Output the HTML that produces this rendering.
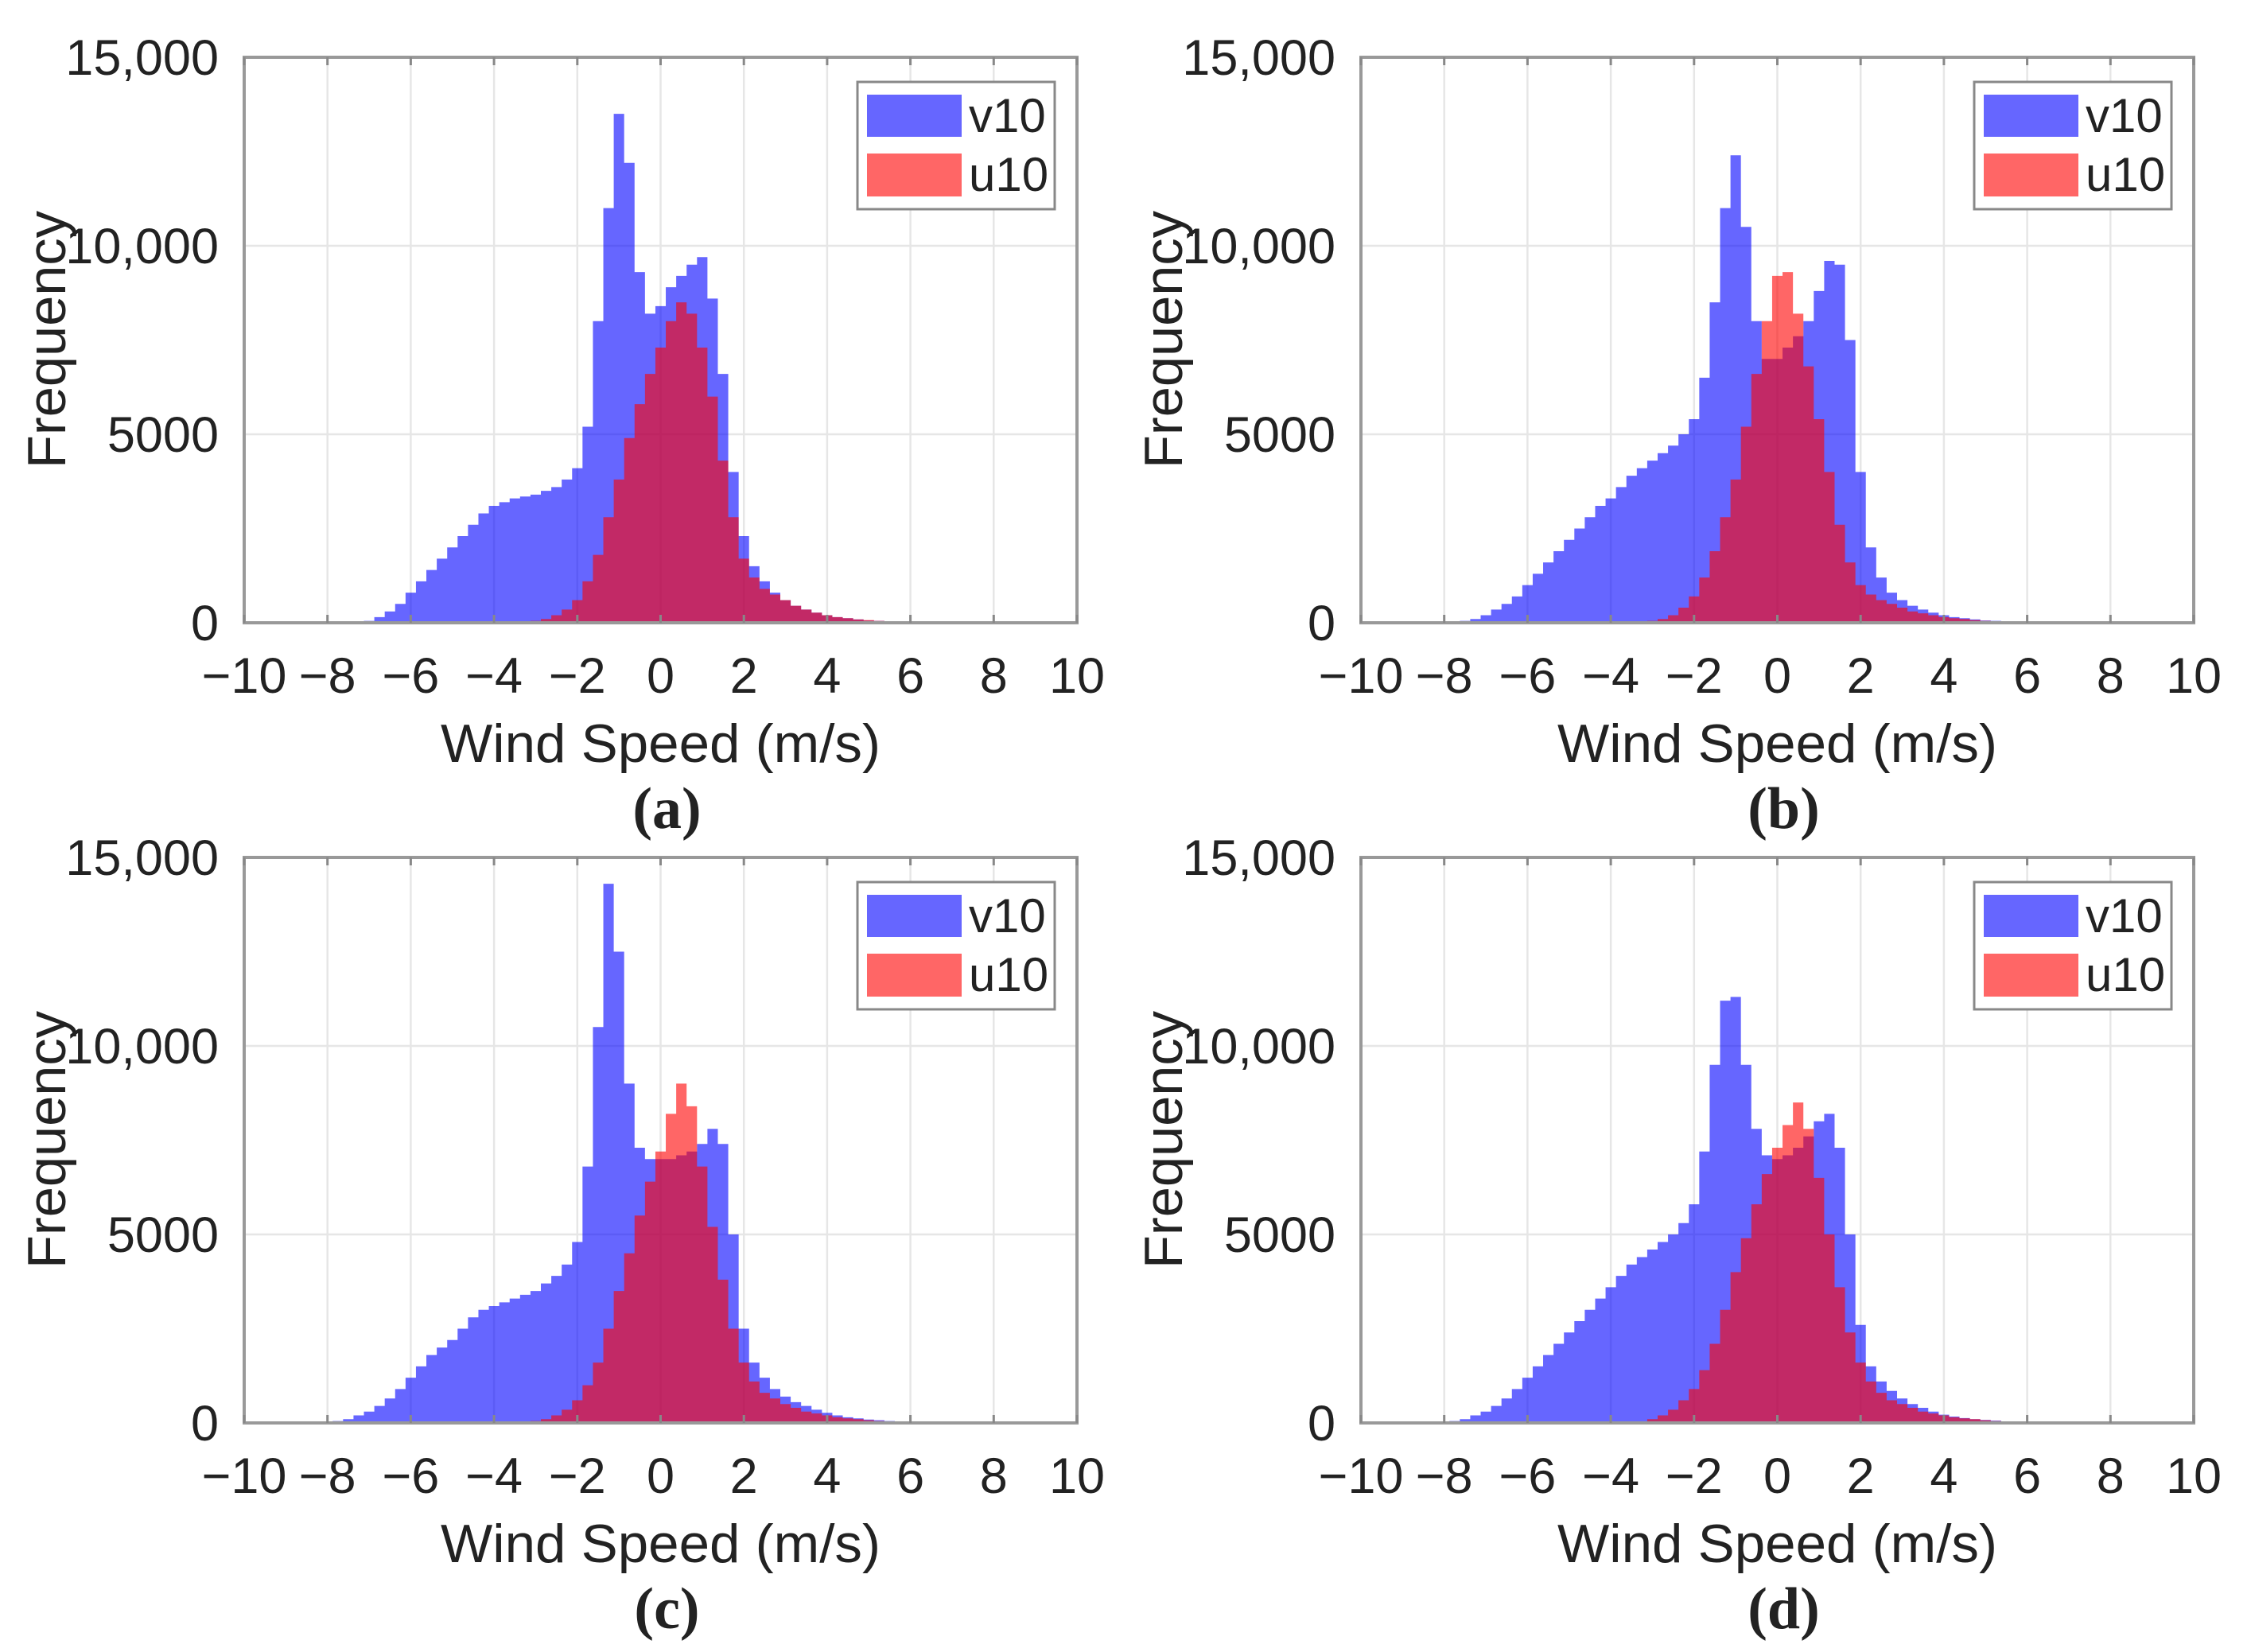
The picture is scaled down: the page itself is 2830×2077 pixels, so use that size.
<!DOCTYPE html>
<html><head><meta charset="utf-8"><style>
html,body{margin:0;padding:0;background:#fff;}
svg text{font-family:"Liberation Sans",Arial,sans-serif;fill:#222;}
</style></head><body>
<svg id="fig" xmlns="http://www.w3.org/2000/svg" width="2830" height="2072" viewBox="0 0 2830 2072"></svg>
<script>
// bin centers: -8 to 7 step 0.25 ; frequencies in thousands
const binStart = -8, binStep = 0.25;
const xTicks = [-10,-8,-6,-4,-2,0,2,4,6,8,10];
const xTickLabels = ["\u221210","\u22128","\u22126","\u22124","\u22122","0","2","4","6","8","10"];
const yTicks = [0,5000,10000,15000];
const yTickLabels = ["0","5000","10,000","15,000"];
const panelLetters = ["(a)","(b)","(c)","(d)"];
const v10a = [0,0,0,0,0.05,0.15,0.3,0.5,0.8,1.1,1.4,1.7,2.0,2.3,2.6,2.9,3.1,3.2,3.3,3.35,3.4,3.5,3.6,3.8,4.1,5.2,8.0,11.0,13.5,12.2,9.3,8.2,8.4,8.9,9.2,9.5,9.7,8.6,6.6,4.0,2.3,1.5,1.1,0.8,0.6,0.45,0.35,0.27,0.2,0.15,0.12,0.09,0.06,0.05,0.04,0.03,0.02,0.01,0.01,0,0];
const u10a = [0,0,0,0,0,0,0,0,0,0,0,0,0,0,0,0,0,0,0,0,0.05,0.1,0.2,0.35,0.6,1.1,1.8,2.8,3.8,4.9,5.8,6.6,7.3,8.0,8.5,8.2,7.3,6.0,4.3,2.8,1.7,1.2,0.9,0.75,0.6,0.45,0.35,0.27,0.2,0.15,0.12,0.09,0.07,0.05,0.04,0.03,0.02,0.01,0.01,0,0];
const v10b = [0,0,0.05,0.1,0.2,0.35,0.5,0.7,1.0,1.3,1.6,1.9,2.2,2.5,2.8,3.1,3.3,3.6,3.9,4.1,4.3,4.5,4.7,5.0,5.4,6.5,8.5,11.0,12.4,10.5,8.0,7.0,7.0,7.3,7.6,8.0,8.8,9.6,9.5,7.5,4.0,2.0,1.2,0.8,0.6,0.45,0.35,0.27,0.2,0.15,0.12,0.09,0.06,0.05,0.04,0.03,0.02,0.01,0.01,0,0];
const u10b = [0,0,0,0,0,0,0,0,0,0,0,0,0,0,0,0,0,0,0,0,0.05,0.1,0.2,0.4,0.7,1.2,1.9,2.8,3.8,5.2,6.6,8.0,9.2,9.3,8.2,6.8,5.4,4.0,2.6,1.6,1.0,0.75,0.6,0.5,0.4,0.3,0.25,0.2,0.15,0.12,0.1,0.07,0.05,0.04,0.03,0.02,0.02,0.01,0.01,0,0];
const v10c = [0.02,0.05,0.1,0.2,0.3,0.45,0.65,0.9,1.2,1.5,1.8,2.0,2.2,2.5,2.8,3.0,3.1,3.2,3.3,3.4,3.5,3.7,3.9,4.2,4.8,6.8,10.5,14.3,12.5,9.0,7.3,7.0,7.0,7.0,7.1,7.2,7.4,7.8,7.4,5.0,2.5,1.6,1.2,0.9,0.7,0.55,0.45,0.35,0.27,0.2,0.15,0.12,0.09,0.07,0.05,0.04,0.03,0.02,0.01,0,0];
const u10c = [0,0,0,0,0,0,0,0,0,0,0,0,0,0,0,0,0,0,0,0,0.05,0.1,0.2,0.35,0.6,1.0,1.6,2.5,3.5,4.5,5.5,6.4,7.2,8.2,9.0,8.4,6.8,5.2,3.8,2.5,1.6,1.1,0.8,0.65,0.5,0.4,0.3,0.25,0.2,0.15,0.12,0.1,0.07,0.05,0.04,0.03,0.02,0.01,0.01,0,0];
const v10d = [0.02,0.05,0.1,0.2,0.3,0.45,0.65,0.9,1.2,1.5,1.8,2.1,2.4,2.7,3.0,3.3,3.6,3.9,4.2,4.4,4.6,4.8,5.0,5.3,5.8,7.2,9.5,11.2,11.3,9.5,7.8,7.1,7.0,7.1,7.3,7.6,8.0,8.2,7.3,5.0,2.6,1.5,1.1,0.85,0.65,0.5,0.4,0.3,0.22,0.17,0.13,0.1,0.08,0.06,0.04,0.03,0.02,0.01,0.01,0,0];
const u10d = [0,0,0,0,0,0,0,0,0,0,0,0,0,0,0,0,0,0,0,0,0.1,0.2,0.35,0.6,0.9,1.4,2.1,3.0,4.0,4.9,5.8,6.6,7.3,7.9,8.5,7.8,6.5,5.0,3.6,2.4,1.6,1.1,0.8,0.6,0.5,0.4,0.3,0.25,0.2,0.15,0.12,0.1,0.07,0.05,0.04,0.03,0.02,0.01,0.01,0,0];

const panels = [
  {L:307,T:72,v:v10a,u:u10a},
  {L:1711,T:72,v:v10b,u:u10b},
  {L:307,T:1078,v:v10c,u:u10c},
  {L:1711,T:1078,v:v10d,u:u10d}
];
const W=1047,H=711;
const NS="http://www.w3.org/2000/svg";
const svg=document.getElementById('fig');
function mk(tag,attrs,parent,text){const e=document.createElementNS(NS,tag);for(const k in attrs)e.setAttribute(k,attrs[k]);if(text!==undefined)e.textContent=text;(parent||svg).appendChild(e);return e;}

panels.forEach((p,pi)=>{
  const g=mk('g',{});
  
  
  const xs=v=>p.L+(v+10)/20*W;
  const ys=v=>p.T+H-(v/15000)*H;
  xTicks.forEach((t,i)=>{
    if(i>0&&i<xTicks.length-1){const l=mk('line',{x1:xs(t),x2:xs(t),y1:p.T,y2:p.T+H,stroke:'#e6e6e6','stroke-width':2.5},g);
      }
  });
  yTicks.forEach((t,i)=>{
    if(i>0&&i<yTicks.length-1){const l=mk('line',{x1:p.L,x2:p.L+W,y1:ys(t),y2:ys(t),stroke:'#e6e6e6','stroke-width':2.5},g);
      }
  });
  function hist(arr,color,name){
    let d='M'+xs(binStart-binStep/2)+','+ys(0);
    arr.forEach((v,i)=>{const c=binStart+i*binStep;const y=ys(v*1000);
      d+=' L'+xs(c-binStep/2)+','+y+' L'+xs(c+binStep/2)+','+y;});
    d+=' L'+xs(binStart+(arr.length-1)*binStep+binStep/2)+','+ys(0)+' Z';
    const e=mk('path',{d:d,fill:color,'fill-opacity':0.6,stroke:'none'},g);
    
    
  }
  hist(p.v,'#0000ff','v10-histogram');
  hist(p.u,'#ff0000','u10-histogram');
  const box=mk('rect',{x:p.L,y:p.T,width:W,height:H,fill:'none',stroke:'#999','stroke-width':4},g);
  
  xTicks.forEach((t,i)=>{
    mk('line',{x1:xs(t),x2:xs(t),y1:p.T+H,y2:p.T+H-10,stroke:'#888','stroke-width':3},g);
    mk('line',{x1:xs(t),x2:xs(t),y1:p.T,y2:p.T+10,stroke:'#888','stroke-width':3},g);
    const tx=mk('text',{x:xs(t),y:p.T+H+88,'font-size':63,'text-anchor':'middle'},g,xTickLabels[i]);
    
  });
  yTicks.forEach((t,i)=>{
    const ty=mk('text',{x:p.L-32,y:ys(t)+22,'font-size':63,'text-anchor':'end'},g,yTickLabels[i]);
    
  });
  const xt=mk('text',{x:p.L+W/2,y:p.T+H+175,'font-size':68,'text-anchor':'middle',textLength:553,lengthAdjust:'spacingAndGlyphs'},g,'Wind Speed (m/s)');
  
  const yt=mk('text',{x:0,y:0,'font-size':68,'text-anchor':'middle',textLength:324,lengthAdjust:'spacingAndGlyphs',transform:'translate('+(p.L-225)+','+(p.T+355)+') rotate(-90)'},g,'Frequency');
  
  const pl=mk('text',{x:p.L+W/2+8,y:p.T+H+258,'font-size':74,'font-weight':'bold','text-anchor':'middle',style:'font-family:"Liberation Serif",serif'},g,panelLetters[pi]);
  
  const lg=mk('g',{},g);
  
  const lx=p.L+771, ly=p.T+31;
  mk('rect',{x:lx,y:ly,width:248,height:160,fill:'#fff',stroke:'#888','stroke-width':3},lg);
  const s1=mk('rect',{x:lx+12,y:ly+16,width:119,height:53,fill:'#0000ff','fill-opacity':0.6},lg);
  
  const t1=mk('text',{x:lx+140,y:ly+63,'font-size':60},lg,'v10');
  
  const s2=mk('rect',{x:lx+12,y:ly+90,width:119,height:54,fill:'#ff0000','fill-opacity':0.6},lg);
  
  const t2=mk('text',{x:lx+140,y:ly+137,'font-size':60},lg,'u10');
  
});
</script>
</body></html>
